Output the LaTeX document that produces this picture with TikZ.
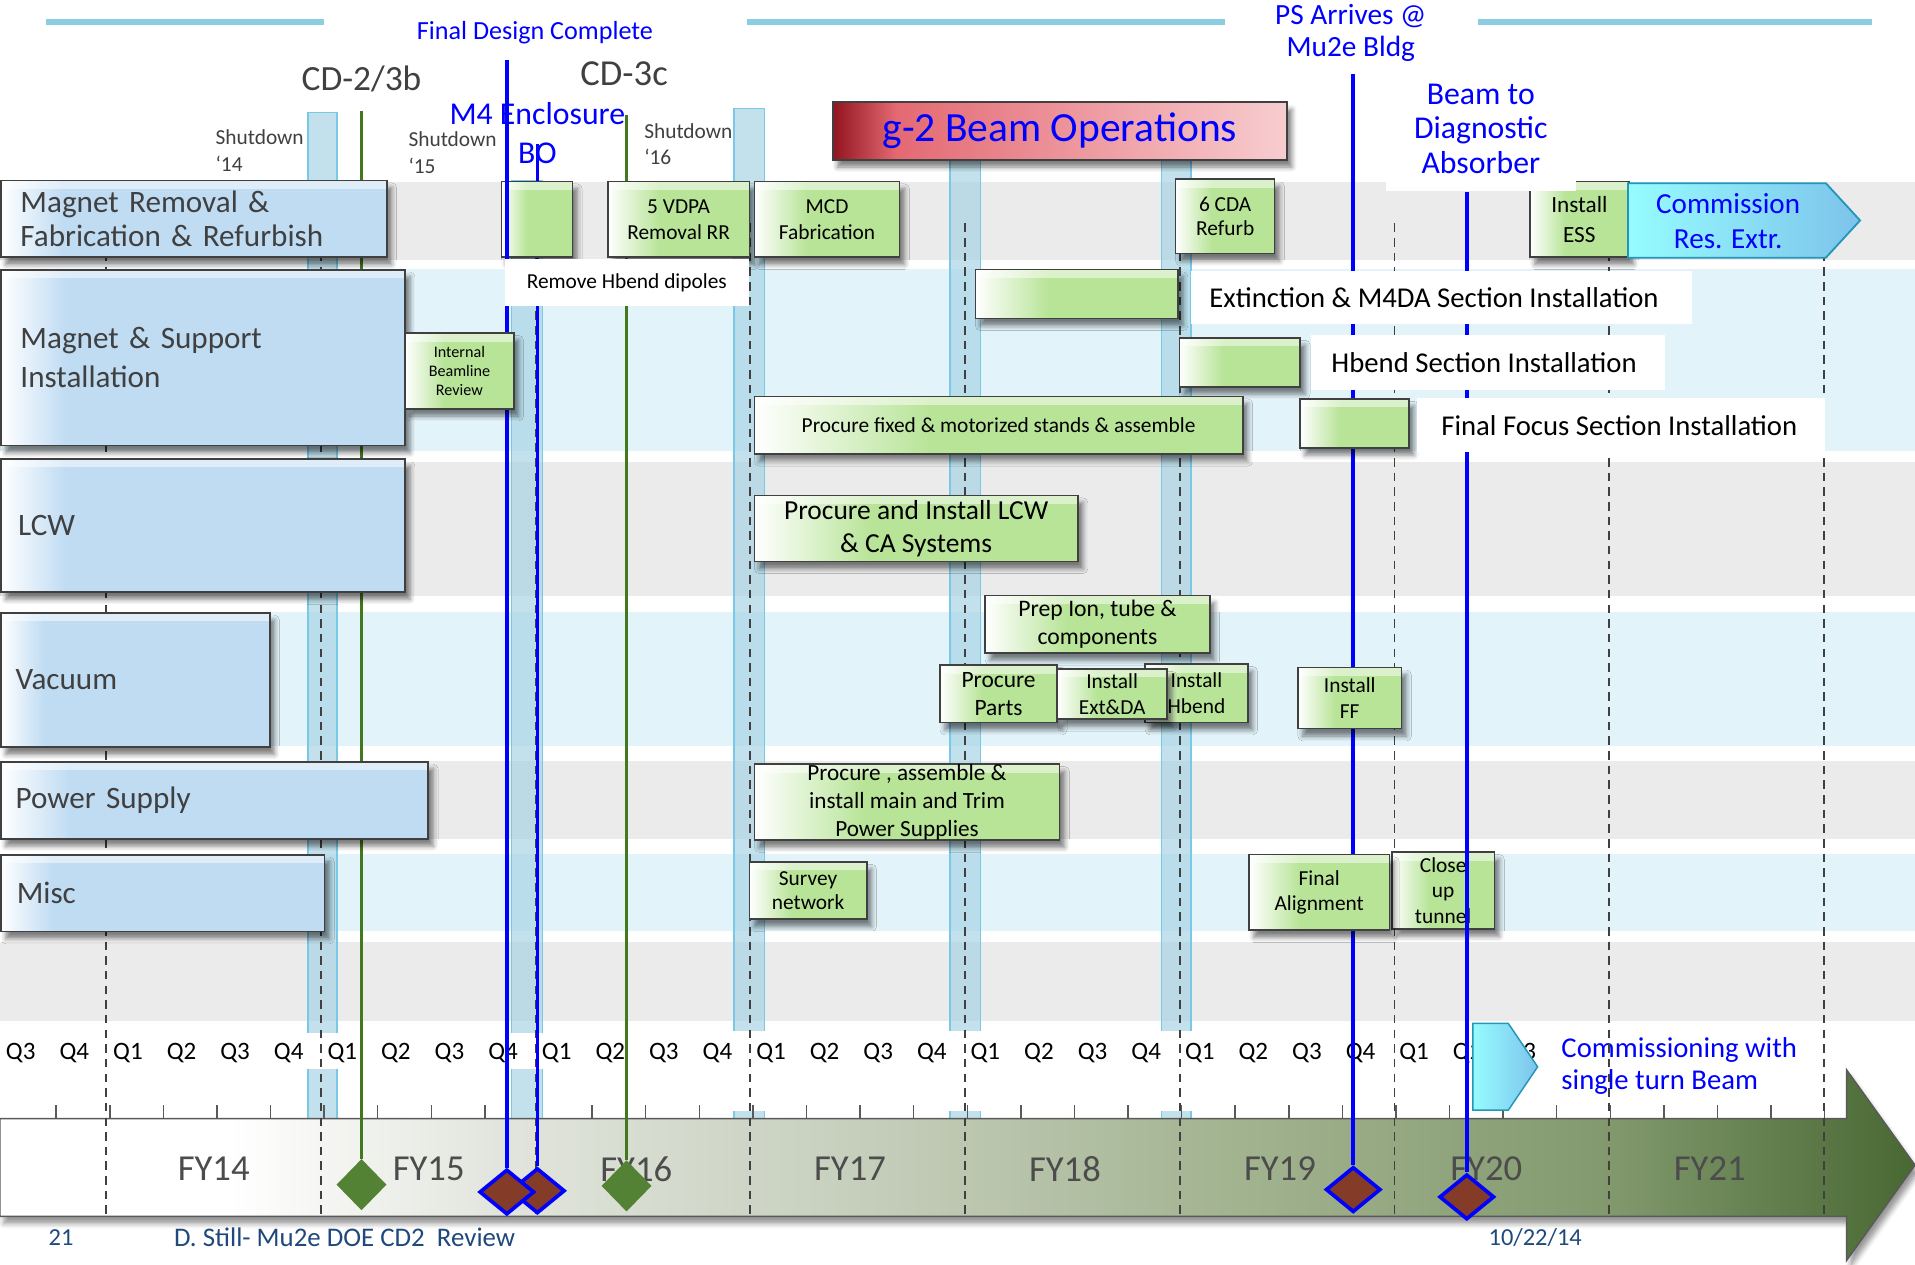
\documentclass[tikz,border=0pt]{standalone}
\usepackage{fontspec}
\setmainfont{Carlito}
\usetikzlibrary{calc,positioning,shapes.geometric,shadows.blur}
\definecolor{bandgrey}{RGB}{235,235,235}
\definecolor{bandblue}{RGB}{226,243,250}
\definecolor{topline}{RGB}{140,205,225}
\definecolor{shutfill}{RGB}{168,212,228}
\definecolor{shutedge}{RGB}{120,200,230}
\definecolor{catblue}{RGB}{192,220,243}
\definecolor{taskgreen}{RGB}{184,228,152}
\definecolor{edgegrey}{RGB}{64,64,64}
\definecolor{labelgrey}{RGB}{64,64,64}
\definecolor{msgreen}{RGB}{84,130,53}
\definecolor{mslinegreen}{RGB}{66,120,30}
\definecolor{msbrown}{RGB}{132,60,40}
\definecolor{footblue}{RGB}{31,73,125}
\definecolor{opsdark}{RGB}{145,20,30}
\definecolor{opsmid}{RGB}{228,105,115}
\definecolor{opslight}{RGB}{247,205,208}
\definecolor{fyA}{RGB}{226,229,221}
\definecolor{fyB}{RGB}{196,205,186}
\definecolor{fyC}{RGB}{163,180,145}
\definecolor{fyD}{RGB}{130,153,110}
\definecolor{fyE}{RGB}{72,104,50}
\definecolor{cyanA}{RGB}{150,252,255}
\definecolor{cyanB}{RGB}{125,195,235}
\definecolor{cyanedge}{RGB}{35,150,185}
\pgfdeclarehorizontalshading{catshade}{100bp}{color(0bp)=(white); color(25bp)=(white); color(33bp)=(catblue); color(100bp)=(catblue)}
\pgfdeclarehorizontalshading{taskshade}{100bp}{color(0bp)=(white); color(25bp)=(white); color(43bp)=(taskgreen); color(100bp)=(taskgreen)}
\pgfdeclarehorizontalshading{opsshade}{100bp}{color(0bp)=(opsdark); color(25bp)=(opsdark); color(32bp)=(opsmid); color(75bp)=(opslight); color(100bp)=(opslight)}
\pgfdeclarehorizontalshading{fyshade}{100bp}{color(0bp)=(white); color(25bp)=(white); color(31bp)=(white); color(38bp)=(fyA); color(48bp)=(fyB); color(57bp)=(fyC); color(67bp)=(fyD); color(75bp)=(fyE); color(100bp)=(fyE)}
\newcommand{\fnt}[2]{\fontsize{#1pt}{#2pt}\selectfont}

\begin{document}
\begin{tikzpicture}[
    x=1pt, y=-1pt,
    tophl/.style={path picture={\fill[white,opacity=.5] (path picture bounding box.north west) rectangle ([yshift=-7pt]path picture bounding box.north east);}},
    boxshadow/.style={blur shadow={shadow xshift=4pt, shadow yshift=-6pt, shadow blur radius=4pt, shadow opacity=50}},
    catbox/.style={draw=edgegrey, line width=1.5pt, shading=catshade, boxshadow, tophl, anchor=north west, inner ysep=0pt, align=left, text=labelgrey, font=\fnt{25.5}{28}},
    taskbox/.style={draw=edgegrey, line width=1.3pt, shading=taskshade, boxshadow, tophl, anchor=north west, inner sep=0pt, align=center, font=\fnt{17.5}{21}},
    seclbl/.style={fill=white, anchor=north west, inner ysep=0pt, font=\fnt{23.5}{28}},
    mstext/.style={text=blue, align=center},
    shutlbl/.style={anchor=west, align=left, text=labelgrey, font=\fnt{17.5}{22}},
    shutbar/.style={fill=shutfill, fill opacity=.7, draw=shutedge, line width=1.2pt},
    fyline/.style={dash pattern=on 7pt off 5pt, line width=1.5pt, draw=black!75},
    blueline/.style={draw=blue, line width=3pt},
    greenline/.style={draw=mslinegreen, line width=3pt},
    gdiam/.style={diamond, fill=msgreen, inner sep=0pt, minimum width=41pt, minimum height=42pt},
    bdiam/.style={diamond, fill=msbrown, draw=blue, line width=3pt, inner sep=0pt, minimum width=45pt, minimum height=37pt},
    qlbl/.style={font=\fnt{20.5}{24}},
    fylbl/.style={font=\fnt{30}{36}, text=black!70},
    footlbl/.style={font=\fnt{20}{24}, text=footblue}
  ]
  \useasboundingbox (0,0) rectangle (1568,1035);

  \draw[topline, line width=4.5pt] (38,18) -- (265,18) (612,18) -- (1003,18) (1210,18) -- (1533,18);

  \fill[bandgrey] (0,149) rectangle (1568,213);
  \fill[bandblue] (0,220) rectangle (1568,369);
  \fill[bandgrey] (0,378) rectangle (1568,488);
  \fill[bandblue] (0,501) rectangle (1568,611);
  \fill[bandgrey] (0,623) rectangle (1568,687);
  \fill[bandblue] (0,699) rectangle (1568,762);
  \fill[bandgrey] (0,771) rectangle (1568,836);

  \foreach \xa/\xb/\yt in {252/276/92, 419/444/148, 601/626/89, 778/803/130, 951/975/130}
    \path[shutbar] (\xa,\yt) rectangle (\xb,916);

  \fill[white] (0,846) rectangle (560,875);
  \fill[white] (560,844) rectangle (1262,910);
  \fill[white] (1262,838) rectangle (1500,909);

  \path[shading=fyshade, draw=black!65, line width=1.2pt, blur shadow={shadow xshift=3pt, shadow yshift=-6pt, shadow blur radius=4pt, shadow opacity=40}]
    (0,916) -- (1512,916) -- (1512,876) -- (1568,954) -- (1512,1032) -- (1512,996) -- (0,996) -- cycle;
  \foreach \k in {0,...,33}
    \draw[black!65, line width=1.2pt] ({46+43.88*\k},905) -- ({46+43.88*\k},916);

  \foreach \k [evaluate=\k as \q using {int(mod(\k+2,4)+1)}] in {0,...,28}
    \node[qlbl] (q\k) at ({17+43.88*\k},862) {Q\q};
  \foreach \fy/\fx in {14/175,15/351,16/521,17/696,18/872,19/1048,20/1217,21/1400}
    \node[fylbl] (fy\fy) at (\fx,957) {FY\fy};

  \node[footlbl] (pageno) at (50,1013) {21};
  \node[footlbl, font=\fnt{22}{24}, anchor=west] (footer) at (139,1013) {D. Still- Mu2e DOE CD2\ \ Review};
  \node[footlbl] (date) at (1257,1013) {10/22/14};

  \node[mstext, anchor=west, align=left, font=\fnt{23.5}{26}] (commtext) at (1275,873) {Commissioning with\\single turn Beam};

  \foreach \k in {0,...,8}
    \draw[fyline] ({87+175.8*\k},183) -- ({87+175.8*\k},995);

  \coordinate (cdtwotop) at (296,91);
  \coordinate (cdthreetop) at (513,94);
  \coordinate (fdctop) at (415,49);
  \coordinate (botop) at (440,118);
  \coordinate (pstop) at (1108,61);
  \coordinate (beamtop) at (1201,157);

  \node[bdiam] (bo) at (440,975) {};
  \draw[blueline] (botop) -- (bo);
  \node[taskbox, minimum width=58pt, minimum height=62pt] (tmfour) at (410,148) {};
  \node[taskbox, minimum width=84pt, minimum height=63pt] (tclose) at (1139,697) {Close\\up\\tunnel};
  \node[bdiam] (fdc) at (415,976) {};
  \draw[blueline] (fdctop) -- (fdc);
  \node[gdiam] (cdtwo) at (296,970) {};
  \draw[greenline] (cdtwotop) -- (cdtwo);
  \node[gdiam] (cdthree) at (513,971) {};
  \draw[greenline] (cdthreetop) -- (cdthree);
  \node[bdiam] (ps) at (1108,974) {};
  \draw[blueline] (pstop) -- (ps);
  \node[bdiam] (beam) at (1201,980) {};
  \draw[blueline] (beamtop) -- (beam);

  \shade[left color=cyanA, right color=cyanB, draw=cyanedge, line width=1.2pt]
    (1206,838) -- (1235,838) -- (1259,873.5) -- (1235,909) -- (1206,909) -- cycle;

  \node[catbox, inner xsep=16pt, text width=284pt, minimum height=63pt] (catremove) at (0,147) {Magnet Removal \&\\Fabrication \& Refurbish};
  \node[catbox, inner xsep=16pt, text width=299pt, minimum height=144pt, font=\fnt{25.5}{32}] (catsupport) at (0,220) {Magnet \& Support\\Installation};
  \node[catbox, inner xsep=14pt, text width=303pt, minimum height=109pt] (catlcw) at (0,375) {LCW};
  \node[catbox, inner xsep=12pt, text width=196pt, minimum height=110pt] (catvac) at (0,501) {Vacuum};
  \node[catbox, inner xsep=12pt, text width=326pt, minimum height=63pt] (catps) at (0,623) {Power Supply};
  \node[catbox, inner xsep=13pt, text width=239pt, minimum height=63pt] (catmisc) at (0,699) {Misc};

  \node[taskbox, minimum width=116pt, minimum height=62pt] (tvdpa) at (497,148) {5 VDPA\\Removal RR};
  \node[taskbox, minimum width=119pt, minimum height=62pt] (tmcd) at (617,148) {MCD\\Fabrication};
  \node[taskbox, minimum width=81pt, minimum height=61pt, font=\fnt{17.5}{19}] (tcda) at (962,146) {6 CDA\\Refurb};
  \node[taskbox, minimum width=81pt, minimum height=62pt, font=\fnt{19}{24}] (tess) at (1252,148) {Install\\ESS};
  \node[taskbox, minimum width=89pt, minimum height=62pt, font=\fnt{13.2}{15.5}] (tibr) at (331,272) {Internal\\Beamline\\Review};
  \node[taskbox, minimum width=166pt, minimum height=40pt] (text) at (798,220) {};
  \node[taskbox, minimum width=99pt, minimum height=40pt] (thb) at (965,276) {};
  \node[taskbox, minimum width=400pt, minimum height=47pt] (tstands) at (617,324) {Procure fixed \& motorized stands \& assemble};
  \node[taskbox, minimum width=89pt, minimum height=40pt] (tff) at (1064,326) {};
  \node[taskbox, minimum width=265pt, minimum height=54pt, font=\fnt{22.5}{27}] (tlcwsys) at (617,405) {Procure and Install LCW\\\& CA Systems};
  \node[taskbox, minimum width=184pt, minimum height=47pt, font=\fnt{19.4}{23}] (tprep) at (806,487) {Prep Ion, tube \&\\components};
  \node[taskbox, minimum width=96pt, minimum height=47pt, font=\fnt{19.2}{23}] (tparts) at (769,544) {Procure\\Parts};
  \node[taskbox, minimum width=84pt, minimum height=48pt] (thbend) at (937,543) {Install\\Hbend};
  \node[taskbox, minimum width=90pt, minimum height=41pt] (textda) at (865,547) {Install\\Ext\&DA};
  \node[taskbox, minimum width=85pt, minimum height=50pt] (tinstff) at (1062,546) {Install\\FF};
  \node[taskbox, minimum width=250pt, minimum height=62pt, font=\fnt{19}{23}] (tpsup) at (617,625) {Procure , assemble \&\\install main and Trim\\Power Supplies};
  \node[taskbox, minimum width=96pt, minimum height=47pt, font=\fnt{17.5}{20}] (tsurvey) at (613,705) {Survey\\network};
  \node[taskbox, minimum width=115pt, minimum height=62pt] (talign) at (1022,699) {Final\\Alignment};

  \node[seclbl, inner xsep=0pt, minimum width=200pt, minimum height=38pt, font=\fnt{17.5}{21}] (lremove) at (413,212) {Remove Hbend dipoles};
  \node[seclbl, inner xsep=15pt, minimum height=43pt] (lext) at (975,222) {\makebox[380pt][l]{Extinction \& M4DA Section Installation}};
  \node[seclbl, inner xsep=17pt, minimum height=45pt] (lhb) at (1073,274) {\makebox[256pt][l]{Hbend Section Installation}};
  \node[seclbl, inner xsep=20pt, minimum height=44pt] (lff) at (1160,326) {\makebox[294pt][l]{Final Focus Section Installation}};

  \node[text=labelgrey, font=\fnt{29}{34}] (cdtwolbl) at (296,65) {CD-2/3b};
  \node[text=labelgrey, font=\fnt{30}{34}] (cdthreelbl) at (511,60) {CD-3c};
  \node[mstext, font=\fnt{21.4}{25}] (fdclbl) at (438,27) {Final Design Complete};
  \node[mstext, font=\fnt{26}{32}] (bolbl) at (440,109) {M4 Enclosure\\BO};
  \node[mstext, font=\fnt{24}{26}] (pslbl) at (1106,27) {PS Arrives @\\Mu2e Bldg};
  \node[mstext, fill=white, inner sep=0pt, minimum width=155pt, minimum height=101pt, font=\fnt{26}{28.5}] (beamlbl) at (1212.5,105.5) {Beam to\\Diagnostic\\Absorber};
  \node[shutlbl] (shutfourteen) at (173,123) {Shutdown\\‘14};
  \node[shutlbl] (shutfifteen) at (331,125) {Shutdown\\‘15};
  \node[shutlbl] (shutsixteen) at (524,118) {Shutdown\\‘16};

  \node[draw=edgegrey, line width=1.5pt, shading=opsshade, boxshadow, anchor=north west, inner sep=0pt, minimum width=372pt, minimum height=47pt, text=blue, font=\fnt{34}{38}] (gops) at (681,83) {g-2 Beam Operations};

  \shade[left color=cyanA, right color=cyanB, draw=cyanedge, line width=1.5pt]
    (1333,150) -- (1495,150) -- (1523,180.5) -- (1495,211) -- (1333,211) -- cycle;
  \node[mstext, font=\fnt{23.8}{28}] (commres) at (1415,181) {Commission\\Res. Extr.};
\end{tikzpicture}
\end{document}
